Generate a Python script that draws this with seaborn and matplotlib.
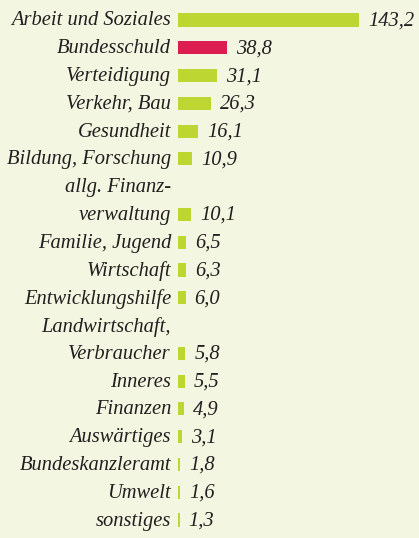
import pandas as pd
import matplotlib
matplotlib.use("Agg")
import matplotlib.pyplot as plt
import matplotlib.transforms as mtransforms
import seaborn as sns

categories = ["Arbeit und Soziales", "Bundesschuld", "Verteidigung", "Verkehr, Bau",
              "Gesundheit", "Bildung, Forschung", "allg. Finanz-\nverwaltung",
              "Familie, Jugend", "Wirtschaft", "Entwicklungshilfe",
              "Landwirtschaft,\nVerbraucher", "Inneres", "Finanzen", "Auswärtiges",
              "Bundeskanzleramt", "Umwelt", "sonstiges"]
values = [143.2, 38.8, 31.1, 26.3, 16.1, 10.9, 10.1, 6.5, 6.3, 6.0,
          5.8, 5.5, 4.9, 3.1, 1.8, 1.6, 1.3]
value_labels = ["143,2", "38,8", "31,1", "26,3", "16,1", "10,9", "10,1", "6,5", "6,3",
                "6,0", "5,8", "5,5", "4,9", "3,1", "1,8", "1,6", "1,3"]
highlight = "Bundesschuld"

BG = "#F3F6E1"
GREEN = "#BDD631"
RED = "#DB1D52"
TXT = "#231F20"

# each label takes as many text lines as it has; the bar sits on the last one
pos = []
line = -1
for c in categories:
    line += c.count("\n") + 1
    pos.append(line)

df = pd.DataFrame({"name": categories, "value": values, "pos": pos})
palette = {c: (RED if c == highlight else GREEN) for c in categories}

fig = plt.figure(figsize=(4.19, 5.38), dpi=100, facecolor=BG)
ax = fig.add_axes([178 / 419, 0, 1 - 178 / 419, 1])
ax.set_facecolor(BG)

sns.barplot(data=df, x="value", y="pos", hue="name", palette=palette, orient="y",
            native_scale=True, dodge=False, legend=False, width=0.47,
            saturation=1, ax=ax)

n_lines = pos[-1]
ax.set_xlim(0, (419 - 178) / 1.264)
ax.set_ylim(n_lines + 18 / 27.78, -20 / 27.78)
ax.axis("off")

font = dict(family="Liberation Serif", style="italic", size=14.8, color=TXT)
left = mtransforms.offset_copy(ax.transData, fig=fig, x=-7, y=-1, units="dots")
for c, p, v, lab in zip(categories, pos, values, value_labels):
    parts = c.split("\n")
    for k, part in enumerate(reversed(parts)):
        ax.text(0, p - k, part, transform=left, ha="right", va="center", **font)
    ax.annotate(lab, (v, p), xytext=(9, -1), textcoords="offset pixels",
                ha="left", va="center", **font)

fig.savefig("out.png", dpi=100, facecolor=BG)
